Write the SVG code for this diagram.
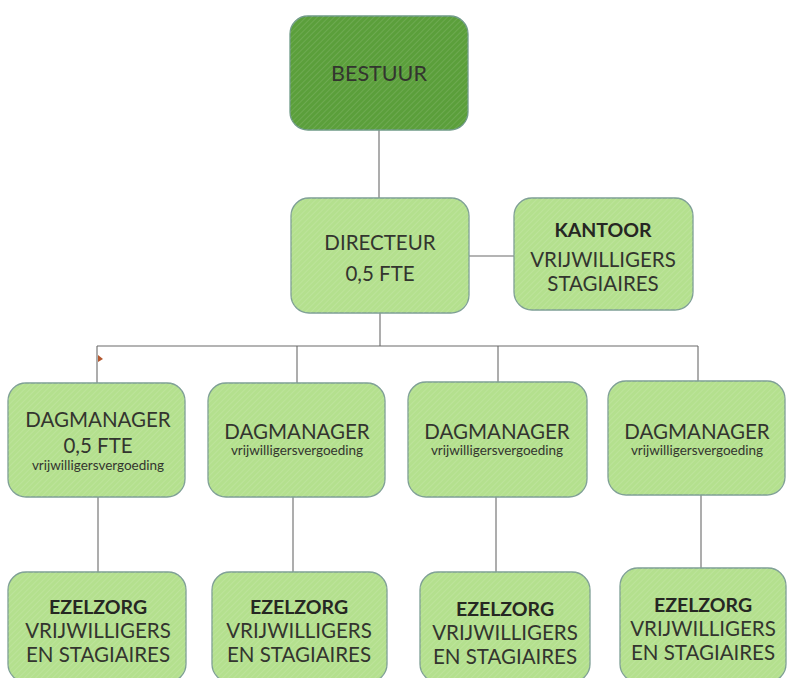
<svg xmlns="http://www.w3.org/2000/svg" width="787" height="678" viewBox="0 0 787 678">
<defs>
<pattern id="hatch" width="4" height="4" patternUnits="userSpaceOnUse" patternTransform="rotate(45)">
<rect width="4" height="4" fill="none"/>
<line x1="0" y1="0" x2="0" y2="4" stroke="#ffffff" stroke-opacity="0.18" stroke-width="1.2"/>
</pattern>
</defs>
<style>
.box{fill:#b4e08e;stroke:#7e9f95;stroke-width:1.3}
.dark{fill:#5b9f3b;stroke:#6f9a87;stroke-width:1.3}
.tex{fill:url(#hatch);stroke:none}
.t{font-family:Lato,"Liberation Sans",sans-serif;fill:#33352f;text-anchor:middle}
.b{font-weight:bold;fill:#262723}
.l{font-size:20.5px}
.lb{font-size:19.5px}
.s{font-size:13.5px}
.con line{stroke:#6a6a6a;stroke-width:1.1}
</style>
<rect width="787" height="678" fill="#ffffff"/>
<g id="connectors" class="con">
<line x1="379" y1="130" x2="379" y2="198"/>
<line x1="469" y1="256" x2="514" y2="256"/>
<line x1="380" y1="313" x2="380" y2="346"/>
<line x1="97" y1="346" x2="698" y2="346"/>
<line x1="97" y1="346" x2="97" y2="383"/>
<line x1="297" y1="346" x2="297" y2="383"/>
<line x1="498" y1="346" x2="498" y2="382"/>
<line x1="698" y1="346" x2="698" y2="381"/>
<line x1="98" y1="497" x2="98" y2="572"/>
<line x1="293" y1="497" x2="293" y2="572"/>
<line x1="496" y1="497" x2="496" y2="572"/>
<line x1="701" y1="495" x2="701" y2="568"/>
<path d="M98 355 L103 359 L98 362 Z" fill="#b4582f" stroke="none"/>
</g>
<g id="bestuur">
<rect class="dark" x="290" y="16" width="178" height="114" rx="18"/>
<rect class="tex" x="290" y="16" width="178" height="114" rx="18"/>
<text class="t" x="379" y="81" font-size="21.5">BESTUUR</text>
</g>
<g id="directeur">
<rect class="box" x="291" y="198" width="178" height="115" rx="18"/>
<rect class="tex" x="291" y="198" width="178" height="115" rx="18"/>
<text class="t l" x="380" y="250">DIRECTEUR</text>
<text class="t l" x="380" y="281">0,5 FTE</text>
</g>
<g id="kantoor">
<rect class="box" x="514" y="198" width="179" height="112" rx="18"/>
<rect class="tex" x="514" y="198" width="179" height="112" rx="18"/>
<text class="t b lb" x="603" y="237">KANTOOR</text>
<text class="t l" x="603" y="267">VRIJWILLIGERS</text>
<text class="t l" x="603" y="291">STAGIAIRES</text>
</g>
<g id="dagmanager1">
<rect class="box" x="8" y="383" width="177" height="114" rx="18"/>
<rect class="tex" x="8" y="383" width="177" height="114" rx="18"/>
<text class="t l" x="98" y="427">DAGMANAGER</text>
<text class="t l" x="98" y="453">0,5 FTE</text>
<text class="t s" x="98" y="470">vrijwilligersvergoeding</text>
</g>
<g id="dagmanager2">
<rect class="box" x="208" y="383" width="177" height="114" rx="18"/>
<rect class="tex" x="208" y="383" width="177" height="114" rx="18"/>
<text class="t l" x="297" y="439">DAGMANAGER</text>
<text class="t s" x="297" y="455">vrijwilligersvergoeding</text>
</g>
<g id="dagmanager3">
<rect class="box" x="408" y="382" width="179" height="115" rx="18"/>
<rect class="tex" x="408" y="382" width="179" height="115" rx="18"/>
<text class="t l" x="497" y="439">DAGMANAGER</text>
<text class="t s" x="497" y="455">vrijwilligersvergoeding</text>
</g>
<g id="dagmanager4">
<rect class="box" x="608" y="381" width="177" height="114" rx="18"/>
<rect class="tex" x="608" y="381" width="177" height="114" rx="18"/>
<text class="t l" x="697" y="439">DAGMANAGER</text>
<text class="t s" x="697" y="455">vrijwilligersvergoeding</text>
</g>
<g id="ezelzorg1">
<rect class="box" x="8" y="572" width="178" height="110" rx="18"/>
<rect class="tex" x="8" y="572" width="178" height="110" rx="18"/>
<text class="t b lb" x="98" y="614">EZELZORG</text>
<text class="t l" x="98" y="638">VRIJWILLIGERS</text>
<text class="t l" x="98" y="662">EN STAGIAIRES</text>
</g>
<g id="ezelzorg2">
<rect class="box" x="212" y="572" width="175" height="110" rx="18"/>
<rect class="tex" x="212" y="572" width="175" height="110" rx="18"/>
<text class="t b lb" x="299" y="614">EZELZORG</text>
<text class="t l" x="299" y="638">VRIJWILLIGERS</text>
<text class="t l" x="299" y="662">EN STAGIAIRES</text>
</g>
<g id="ezelzorg3">
<rect class="box" x="420" y="572" width="170" height="110" rx="18"/>
<rect class="tex" x="420" y="572" width="170" height="110" rx="18"/>
<text class="t b lb" x="505" y="616">EZELZORG</text>
<text class="t l" x="505" y="640">VRIJWILLIGERS</text>
<text class="t l" x="505" y="664">EN STAGIAIRES</text>
</g>
<g id="ezelzorg4">
<rect class="box" x="620" y="568" width="166" height="114" rx="18"/>
<rect class="tex" x="620" y="568" width="166" height="114" rx="18"/>
<text class="t b lb" x="703" y="612">EZELZORG</text>
<text class="t l" x="703" y="636">VRIJWILLIGERS</text>
<text class="t l" x="703" y="660">EN STAGIAIRES</text>
</g>
</svg>
